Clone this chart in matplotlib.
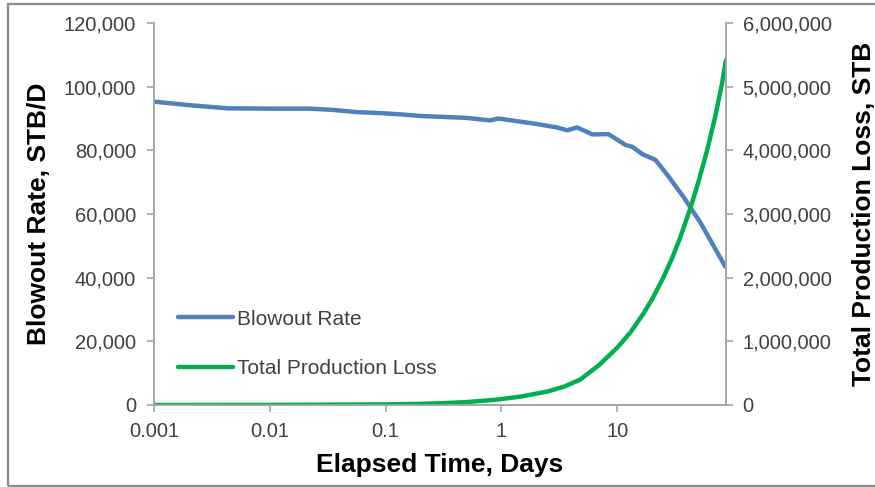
import matplotlib
matplotlib.use("Agg")
import matplotlib.pyplot as plt
from matplotlib.ticker import FuncFormatter, FixedLocator, NullLocator
from matplotlib.patches import Rectangle

plt.rcParams['font.family'] = ['Liberation Sans', 'DejaVu Sans']

# Blowout rate vs elapsed time
rate_days = [0.001, 0.002, 0.0043, 0.01, 0.022, 0.035, 0.057, 0.09, 0.134, 0.2,
             0.36, 0.5, 0.8, 0.94, 1.46, 2.0, 3.0, 3.7, 4.5, 6.1, 8.4, 11.8,
             13.5, 16.5, 21.4, 27.2, 37.3, 52.5, 86]
rate_stbd = [95300, 94200, 93200, 93100, 93100, 92700, 92000, 91700, 91300, 90800,
             90400, 90200, 89400, 90000, 89000, 88300, 87200, 86300, 87200, 85000,
             85100, 81700, 81100, 78800, 77000, 72200, 65400, 57200, 43400]

# Cumulative production loss vs elapsed time
loss_days = [0.001, 0.01, 0.1, 0.2, 0.3, 0.5, 0.92, 1.5, 2.5, 3.5, 4.8, 7, 10,
             13, 16.9, 20, 25, 30, 35, 43, 50, 60, 70, 80, 87]
loss_stb = [100, 900, 9200, 18500, 27500, 46000, 85000, 135000, 212000, 290000,
            400000, 630000, 900000, 1140000, 1440000, 1660000, 2000000, 2320000,
            2630000, 3100000, 3490000, 4010000, 4520000, 5030000, 5420000]

x_ticks = [0.001, 0.01, 0.1, 1, 10]
x_tick_labels = ['0.001', '0.01', '0.1', '1', '10']
left_ticks = [0, 20000, 40000, 60000, 80000, 100000, 120000]
right_ticks = [0, 1000000, 2000000, 3000000, 4000000, 5000000, 6000000]

BLUE = '#4F81BD'
GREEN = '#00B050'
AXIS_GRAY = '#A6A6A6'
TEXT_GRAY = '#404040'

fig = plt.figure(figsize=(8.75, 4.87), dpi=100)
ax = fig.add_axes([154/875, 1-405/487, (726-154)/875, (405-23)/487])
ax2 = ax.twinx()

l1, = ax.plot(rate_days, rate_stbd, color=BLUE, lw=3.2, solid_capstyle='round',
              solid_joinstyle='round', label='Blowout Rate')
l2, = ax2.plot(loss_days, loss_stb, color=GREEN, lw=3.2, solid_capstyle='round',
               solid_joinstyle='round', label='Total Production Loss')

ax.set_xscale('log')
ax.set_xlim(0.001, 87)
ax.xaxis.set_major_locator(FixedLocator(x_ticks))
ax.xaxis.set_minor_locator(NullLocator())
ax.set_xticklabels(x_tick_labels)

ax.set_ylim(0, 120000)
ax.set_yticks(left_ticks)
ax.yaxis.set_major_formatter(FuncFormatter(lambda v, p: f'{int(v):,}'))
ax2.set_ylim(0, 6000000)
ax2.set_yticks(right_ticks)
ax2.yaxis.set_major_formatter(FuncFormatter(lambda v, p: f'{int(v):,}'))

for a in (ax, ax2):
    for s in a.spines.values():
        s.set_color(AXIS_GRAY)
        s.set_linewidth(1.2)
    a.spines['top'].set_visible(False)
    a.tick_params(axis='both', direction='out', length=5, width=1.2,
                  color=AXIS_GRAY, labelcolor=TEXT_GRAY, labelsize=14.5)
ax.tick_params(axis='x', pad=7)
ax.tick_params(axis='y', pad=8)
ax2.tick_params(axis='y', pad=7)

ax.set_xlabel('Elapsed Time, Days', fontsize=19, fontweight='bold', labelpad=9)
ax.set_ylabel('Blowout Rate, STB/D', fontsize=19, fontweight='bold', labelpad=9)
ax2.set_ylabel('Total Production Loss, STB', fontsize=19, fontweight='bold',
               labelpad=15)

leg = ax.legend(handles=[l1, l2], loc='center left',
                bbox_to_anchor=(0.01, 0.16), frameon=False, fontsize=15,
                handlelength=2.6, handletextpad=0.2, labelspacing=1.45)
for t in leg.get_texts():
    t.set_color(TEXT_GRAY)

# outer chart-area border
fig.patches.append(Rectangle((8/875, 1/487), 1.0, 482/487, transform=fig.transFigure,
                             fill=False, edgecolor='#8C8C8C', linewidth=1.6))

fig.savefig('out.png', dpi=100)
